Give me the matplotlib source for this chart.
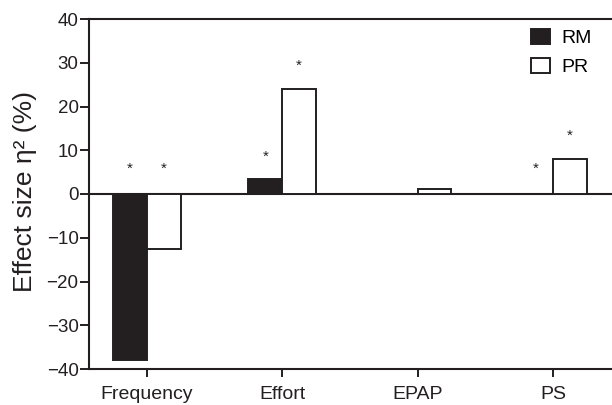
import matplotlib
matplotlib.use("Agg")
import matplotlib.pyplot as plt
from matplotlib.patches import Patch
import numpy as np

plt.rcParams['font.family'] = ['Liberation Sans', 'DejaVu Sans']

categories = ["Frequency", "Effort", "EPAP", "PS"]
rm_values = [-38.0, 3.4, 0.0, 0.0]
pr_values = [-12.5, 24.1, 1.1, 7.9]
# significance asterisks: (category index, series, y value)
star_cat = [0, 0, 1, 1, 3, 3]
star_series = ["RM", "PR", "RM", "PR", "RM", "PR"]
star_y = [6.8, 6.8, 9.6, 30.4, 7.0, 14.4]
yticks = [-40, -30, -20, -10, 0, 10, 20, 30, 40]

dark = "#231f20"
fig = plt.figure(figsize=(6.12, 4.05), dpi=100)
ax = fig.add_axes([89/612, 1-369/405, (612-89)/612, 350/405])

x = np.arange(len(categories))
w = 0.25
ax.bar(x - w/2, rm_values, w, color=dark, edgecolor=dark, linewidth=1.4, zorder=3)
ax.bar(x + w/2, pr_values, w, color="white", edgecolor=dark, linewidth=1.4, zorder=3)
ax.axhline(0, color=dark, linewidth=1.5, zorder=2)

for c, s, yv in zip(star_cat, star_series, star_y):
    xx = c - w/2 if s == "RM" else c + w/2
    ax.annotate("*", (xx, yv), xytext=(0, -6.5), textcoords="offset points",
                ha="center", va="baseline", fontsize=11, color=dark)

ax.set_xlim(-0.4287, 3.437)
ax.set_ylim(-40, 40)
ax.set_yticks(yticks)
ax.set_yticklabels([str(t).replace("-", "\u2212") for t in yticks])
ax.set_xticks(x)
ax.set_xticklabels(categories)

for side in ["left", "top", "bottom"]:
    ax.spines[side].set_linewidth(1.5)
    ax.spines[side].set_color(dark)
ax.spines["right"].set_visible(False)
ax.tick_params(axis="y", direction="out", length=6.5, width=1.4, pad=1,
               labelsize=13.5, colors=dark)
ax.tick_params(axis="x", direction="out", length=6, width=1.4, pad=6,
               labelsize=14, colors=dark)

ax.set_ylabel("Effect size \u03b7\u00b2 (%)", fontsize=19, color=dark)
ax.yaxis.set_label_coords(-0.100, 0.507)

handles = [Patch(facecolor=dark, edgecolor=dark, linewidth=1.4, label="RM"),
           Patch(facecolor="white", edgecolor=dark, linewidth=1.4, label="PR")]
ax.legend(handles=handles, loc="upper left", bbox_to_anchor=((531-89)/523, (369-29)/350),
          frameon=False, fontsize=14, handlelength=0.98, handleheight=0.82,
          handletextpad=0.6, labelspacing=0.55, borderpad=0, borderaxespad=0)

fig.savefig("out.png", dpi=100)
